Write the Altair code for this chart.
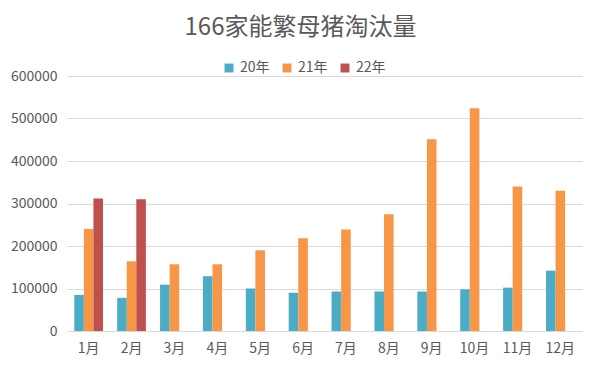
import altair as alt
import pandas as pd

months = ["1月", "2月", "3月", "4月", "5月", "6月", "7月", "8月", "9月", "10月", "11月", "12月"]
years = ["20年", "21年", "22年"]
v20 = [85000, 78000, 109000, 129000, 100000, 90000, 93000, 93000, 93000, 98000, 102000, 142000]
v21 = [240000, 164000, 157000, 157000, 190000, 218000, 239000, 275000, 451000, 524000, 340000, 330000]
v22 = [312000, 310000, None, None, None, None, None, None, None, None, None, None]
colors = ["#4BACC6", "#F79646", "#C0504D"]

rows = []
for series, yr in zip([v20, v21, v22], years):
    for m, v in zip(months, series):
        if v is not None:
            rows.append({"month": m, "year": yr, "value": v})
df = pd.DataFrame(rows)

font = "Noto Sans CJK SC"
grey = "#595959"

chart = alt.Chart(df).mark_bar().encode(
    x=alt.X("month:N", sort=months, title=None,
            scale=alt.Scale(paddingInner=0.33, paddingOuter=0.17),
            axis=alt.Axis(labelAngle=0, ticks=False, labelPadding=10,
                          labelFontSize=14, labelColor=grey, labelFont=font,
                          domainColor="#d9d9d9", grid=False)),
    xOffset=alt.XOffset("year:N", sort=years, scale=alt.Scale(domain=years)),
    y=alt.Y("value:Q", title=None,
            scale=alt.Scale(domain=[0, 600000]),
            axis=alt.Axis(values=[0, 100000, 200000, 300000, 400000, 500000, 600000],
                          format="d", ticks=False, domain=False, labelPadding=10,
                          labelFontSize=14, labelColor=grey, labelFont=font,
                          gridColor="#d9d9d9")),
    color=alt.Color("year:N", sort=years,
                    scale=alt.Scale(domain=years, range=colors),
                    legend=alt.Legend(title=None, orient="none", direction="horizontal",
                                      legendX=155, legendY=-15,
                                      symbolType="square", symbolSize=80,
                                      labelFontSize=14, labelColor=grey, labelFont=font,
                                      columnPadding=10, symbolStrokeWidth=0)),
).properties(
    width=515, height=255,
    autosize=alt.AutoSizeParams(type="none"),
    padding={"left": 59, "top": 68, "right": 10, "bottom": 34},
    title=alt.TitleParams("166家能繁母猪淘汰量", fontSize=24, font=font, color=grey,
                          fontWeight="normal", anchor="middle", dx=-24,
                          baseline="alphabetic", offset=2),
).configure_view(stroke=None)

chart.save("out.html", embed_options={"renderer": "svg", "actions": False})
